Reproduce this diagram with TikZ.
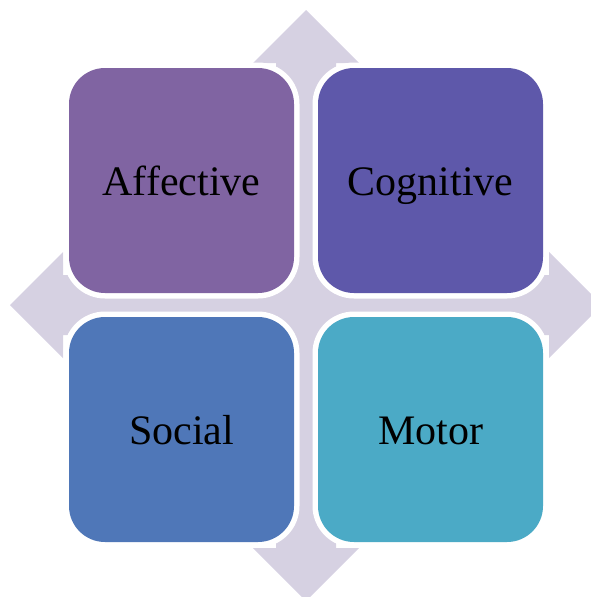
\documentclass[tikz,border=0pt]{standalone}
\usepackage{fontspec}
\setmainfont{Liberation Serif}
\definecolor{crossbg}{HTML}{D6D1E2}
\definecolor{affectcol}{HTML}{8064A2}
\definecolor{cognicol}{HTML}{5E58AA}
\definecolor{socialcol}{HTML}{4F77B8}
\definecolor{motorcol}{HTML}{4BAAC6}
\begin{document}
\begin{tikzpicture}[x=1pt, y=-1pt,
    tile/.style={rectangle, minimum width=225pt, minimum height=225pt, inner sep=0pt,
      rounded corners=36pt, preaction={draw=white, line width=11pt},
      text height=29pt, text depth=0pt, font=\fontsize{42}{42}\selectfont}]
    \useasboundingbox (0,0) rectangle (591,597);
    \clip (0,0) rectangle (591,597);
    % four-way arrow behind the tiles
    \fill[crossbg] (276,63) -- (253,63) -- (306,10) -- (359,63) -- (336,63)
      -- (336,275) -- (549,275) -- (549,252) -- (602,305) -- (549,358) -- (549,335)
      -- (336,335) -- (336,548) -- (359,548) -- (306,601) -- (253,548) -- (276,548)
      -- (276,335) -- (63,335) -- (63,358) -- (10,305) -- (63,252) -- (63,275)
      -- (276,275) -- cycle;
    % tiles
    \node[tile, fill=affectcol] (affective) at (181.5,180.5) {Affective};
    \node[tile, fill=cognicol] (cognitive) at (430.5,180.5) {Cognitive};
    \node[tile, fill=socialcol] (social) at (181.5,429.5) {Social};
    \node[tile, fill=motorcol] (motor) at (430.5,429.5) {Motor};
  \end{tikzpicture}
\end{document}
